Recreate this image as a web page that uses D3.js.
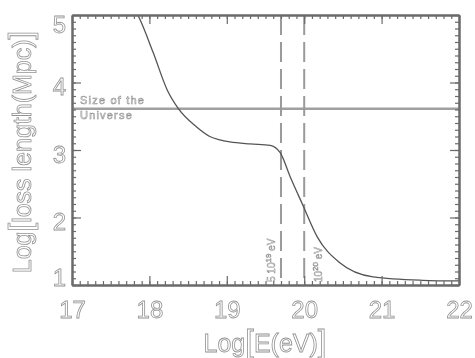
<!DOCTYPE html>
<html>
<head>
<meta charset="utf-8">
<script src="https://cdn.jsdelivr.net/npm/d3@7"></script>
<style>
  html, body { margin: 0; padding: 0; background: #fff; }
  svg { display: block; filter: grayscale(1); }
  .hollow { fill: #fff; stroke: #939393; stroke-width: 0.8px; }
</style>
</head>
<body>
<svg id="chart" width="475" height="358"></svg>
<script>
// Energy-loss length of ultra-high-energy protons versus energy
const energyLog = [17.80, 17.85, 18.05, 18.23, 18.37, 18.61, 18.78, 18.91, 19.04, 19.30, 19.56, 19.69, 19.82, 19.98, 20.17, 20.46, 20.89, 21.53, 22.00];
const lossLengthLog = [5.10, 5.00, 4.44, 3.89, 3.62, 3.34, 3.20, 3.15, 3.12, 3.09, 3.07, 2.96, 2.60, 2.19, 1.71, 1.33, 1.12, 1.07, 1.06];

const xTicks = [17, 18, 19, 20, 21, 22];
const yTicks = [1, 2, 3, 4, 5];

const universeSizeLog = 3.61;
const markerEnergies = [19.7, 20.0];

const svg = d3.select("#chart");
const plotLeft = 72, plotRight = 459, plotTop = 15, plotBottom = 285;

const x = d3.scaleLinear().domain([17, 22]).range([plotLeft, plotRight]);
const y = d3.scaleLinear().domain([1, 5]).range([plotBottom, plotTop]);

svg.append("rect").attr("width", 475).attr("height", 358).attr("fill", "#fff");

svg.append("defs").append("clipPath").attr("id", "plot")
  .append("rect").attr("x", plotLeft).attr("y", plotTop)
  .attr("width", plotRight - plotLeft).attr("height", plotBottom - plotTop);

// Horizontal reference: size of the observable universe
svg.append("line")
  .attr("x1", plotLeft).attr("x2", plotRight)
  .attr("y1", y(universeSizeLog)).attr("y2", y(universeSizeLog))
  .attr("stroke", "#a0a0a0").attr("stroke-width", 2.5);

const uniLabel = svg.append("text")
  .attr("class", "hollow")
  .attr("font-family", "Liberation Sans, Arial, sans-serif")
  .attr("font-size", 11)
  .attr("letter-spacing", 1.2)
  .style("stroke-width", "0.6px");
uniLabel.append("tspan").attr("x", x(17) + 8).attr("y", y(universeSizeLog) - 5).text("Size of the");
uniLabel.append("tspan").attr("x", x(17) + 8).attr("y", y(universeSizeLog) + 10).text("Universe");

// Vertical dashed markers at 5·10^19 eV and 10^20 eV
svg.append("g").selectAll("line").data(markerEnergies).join("line")
  .attr("x1", d => x(d)).attr("x2", d => x(d))
  .attr("y1", plotTop).attr("y2", plotBottom)
  .attr("stroke", "#9a9a9a").attr("stroke-width", 2)
  .attr("stroke-dasharray", "20,7");

function markerLabel(cx, prefix, exp) {
  const t = svg.append("text")
    .attr("transform", `translate(${cx},${plotBottom - 3}) rotate(-90)`)
    .attr("font-family", "Liberation Sans, Arial, sans-serif")
    .attr("font-size", 10)
    .attr("fill", "#fff").attr("stroke", "#8e8e8e").attr("stroke-width", 0.5);
  t.append("tspan").text(prefix);
  t.append("tspan").attr("font-size", 8).attr("dy", -4).text(exp);
  t.append("tspan").attr("dy", 4).text(" eV");
}
markerLabel(x(19.7) - 6, "5 10", "19");
markerLabel(x(20.0) + 18, "10", "20");

// Loss-length curve
const line = d3.line().x(d => x(d[0])).y(d => y(d[1])).curve(d3.curveMonotoneX);
svg.append("path")
  .datum(d3.zip(energyLog, lossLengthLog))
  .attr("clip-path", "url(#plot)")
  .attr("d", line)
  .attr("fill", "none").attr("stroke", "#555").attr("stroke-width", 1.3);

// Axes with inward major and minor ticks on all four sides
const minorX = d3.range(17, 22.001, 0.1).map(v => +v.toFixed(1));
const minorY = d3.range(1, 5.001, 0.1).map(v => +v.toFixed(1));
const axisColor = "#6a6a6a";

function styleAxis(g) {
  g.selectAll("path.domain").attr("stroke", axisColor).attr("stroke-width", 2);
  g.selectAll(".tick line").attr("stroke", axisColor).attr("stroke-width", 1.2);
}

const axes = [
  { gen: d3.axisBottom, scale: x, ticks: xTicks, minor: minorX, tr: `translate(0,${plotBottom})` },
  { gen: d3.axisTop, scale: x, ticks: xTicks, minor: minorX, tr: `translate(0,${plotTop})` },
  { gen: d3.axisLeft, scale: y, ticks: yTicks, minor: minorY, tr: `translate(${plotLeft},0)` },
  { gen: d3.axisRight, scale: y, ticks: yTicks, minor: minorY, tr: `translate(${plotRight},0)` }
];
axes.forEach(a => {
  svg.append("g").attr("transform", a.tr)
    .call(a.gen(a.scale).tickValues(a.minor).tickSize(-4).tickSizeOuter(0).tickFormat(""))
    .call(styleAxis);
  svg.append("g").attr("transform", a.tr)
    .call(a.gen(a.scale).tickValues(a.ticks).tickSize(-9).tickSizeOuter(0).tickFormat(""))
    .call(styleAxis);
});

// Tick labels
const labelFont = "Liberation Sans, Arial, sans-serif";
const xLab = svg.append("g").attr("transform", `translate(0,${plotBottom})`)
  .call(d3.axisBottom(x).tickValues(xTicks).tickSize(0).tickPadding(0).tickFormat(d3.format("d")));
xLab.select("path.domain").remove();
xLab.selectAll("text")
  .attr("class", "hollow").attr("font-family", labelFont).attr("font-size", 24)
  .attr("dy", null).attr("y", 33);

const yLab = svg.append("g").attr("transform", `translate(${plotLeft},0)`)
  .call(d3.axisLeft(y).tickValues(yTicks).tickSize(0).tickPadding(6).tickFormat(d3.format("d")));
yLab.select("path.domain").remove();
yLab.selectAll("text")
  .attr("class", "hollow").attr("font-family", labelFont).attr("font-size", 24)
  .attr("dy", d => d === 5 ? "0.71em" : d === 1 ? "0.03em" : "0.5em");

// Axis titles
const xTitle = svg.append("text")
  .attr("class", "hollow").attr("font-family", labelFont).attr("font-size", 25)
  .attr("text-anchor", "middle")
  .attr("x", 265).attr("y", 352);
xTitle.append("tspan").text("Log");
xTitle.append("tspan").attr("font-size", 31).text("[");
xTitle.append("tspan").text("E(eV)");
xTitle.append("tspan").attr("font-size", 31).text("]");

const yTitle = svg.append("text")
  .attr("class", "hollow").attr("font-family", labelFont).attr("font-size", 25)
  .attr("text-anchor", "middle")
  .attr("transform", `translate(31,${(plotTop + plotBottom) / 2 + 2}) rotate(-90)`);
yTitle.append("tspan").text("Log");
yTitle.append("tspan").attr("font-size", 31).text("[");
yTitle.append("tspan").text("loss length(Mpc)");
yTitle.append("tspan").attr("font-size", 31).text("]");
</script>
</body>
</html>
